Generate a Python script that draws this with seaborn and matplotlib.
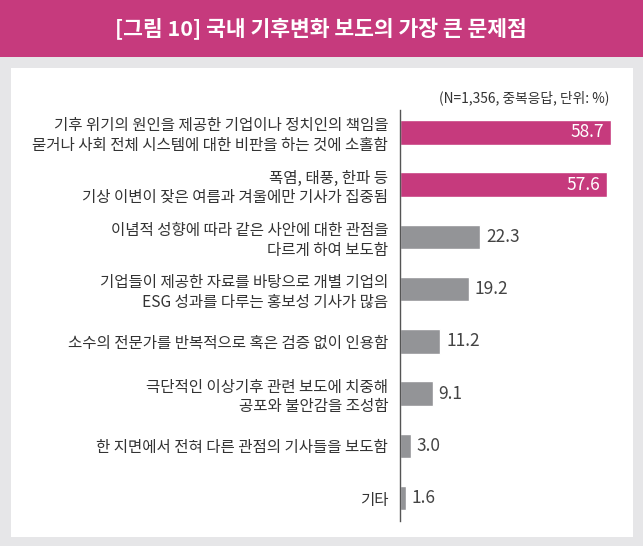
import matplotlib
matplotlib.use("Agg")
import matplotlib.pyplot as plt
import seaborn as sns
import pandas as pd
from matplotlib.patches import Rectangle

# DATA
categories = [
    "기후 위기의 원인을 제공한 기업이나 정치인의 책임을\n묻거나 사회 전체 시스템에 대한 비판을 하는 것에 소홀함",
    "폭염, 태풍, 한파 등\n기상 이변이 잦은 여름과 겨울에만 기사가 집중됨",
    "이념적 성향에 따라 같은 사안에 대한 관점을\n다르게 하여 보도함",
    "기업들이 제공한 자료를 바탕으로 개별 기업의\nESG 성과를 다루는 홍보성 기사가 많음",
    "소수의 전문가를 반복적으로 혹은 검증 없이 인용함",
    "극단적인 이상기후 관련 보도에 치중해\n공포와 불안감을 조성함",
    "한 지면에서 전혀 다른 관점의 기사들을 보도함",
    "기타",
]
values = [58.7, 57.6, 22.3, 19.2, 11.2, 9.1, 3.0, 1.6]
highlight = [True, True, False, False, False, False, False, False]

title = "[그림 10] 국내 기후변화 보도의 가장 큰 문제점"
note = "(N=1,356, 중복응답, 단위: %)"

MAGENTA = "#C63A7D"
GRAY = "#939497"
BG = "#E6E6E8"
TEXT = "#333333"

df = pd.DataFrame({"item": categories, "value": values})
colors = [MAGENTA if h else GRAY for h in highlight]

sns.set_theme(style="white")
plt.rcParams["font.family"] = ["Noto Sans CJK KR", "DejaVu Sans"]

fig = plt.figure(figsize=(6.43, 5.46), dpi=100, facecolor=BG)

# white panel + title banner (behind the axes)
fig.patches.append(Rectangle((0.0171, 0.0165), 0.9673, 0.8595,
                             transform=fig.transFigure, facecolor="white",
                             edgecolor="none", zorder=-2))
fig.patches.append(Rectangle((0, 0.895), 1, 0.105,
                             transform=fig.transFigure, facecolor=MAGENTA,
                             edgecolor="none", zorder=-2))
fig.text(0.4992, 0.946, title, ha="center", va="center", color="white",
         fontsize=15.5, fontweight="bold")
fig.text(0.947, 0.8205, note, ha="right", va="center", color=TEXT,
         fontsize=9.9)

ax = fig.add_axes([0.6221, 0.0458, 0.3355, 0.7527])
ax.set_facecolor("none")
sns.barplot(data=df, x="value", y="item", hue="item", palette=colors,
            legend=False, width=0.47, saturation=1, ax=ax)

ax.set_xlim(0, 60)
ax.set_ylim(7.44, -0.43)
ax.set_xlabel("")
ax.set_ylabel("")
ax.set_xticks([])
ax.tick_params(axis="y", length=0, pad=8.5, labelsize=11.2, labelcolor=TEXT)
for lab in ax.get_yticklabels():
    lab.set_linespacing(1.2)

for s in ["top", "right", "bottom"]:
    ax.spines[s].set_visible(False)
ax.spines["left"].set_color("#555555")
ax.spines["left"].set_linewidth(1.0)

# value labels
for i, (v, h) in enumerate(zip(values, highlight)):
    if h:
        ax.text(v - 1.9, i, f"{v:.1f}", ha="right", va="center",
                color="white", fontsize=12.5)
    else:
        ax.text(v + 1.6, i, f"{v:.1f}", ha="left", va="center",
                color="#444444", fontsize=12.5)

fig.savefig("out.png", dpi=100, facecolor=BG)
